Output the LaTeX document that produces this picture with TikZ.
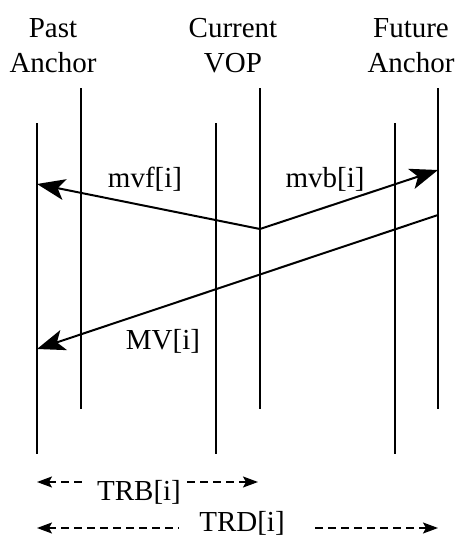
\documentclass[tikz,border=0pt]{standalone}
\usepackage{fontspec}
\setmainfont{Liberation Serif}
\usetikzlibrary{arrows.meta,calc}
\tikzset{
  mv/frame/.style={line width=1.5pt, draw=black},
  mv/vector/.style={line width=2pt, draw=black,
    -{Stealth[length=28pt,width=21pt,inset=7pt]}},
  mv/dim/.style={line width=1.6pt, draw=black, dash pattern=on 8pt off 5pt},
  mv/dimtip/.style={{Stealth[length=15pt,width=11pt,inset=3pt]}-},
  mv/label/.style={font=\fontsize{29}{35}\selectfont, inner sep=0pt, anchor=base},
  mv/head/.style={mv/label, align=center}
}
\begin{document}
\begin{tikzpicture}[x=1pt,y=-1pt]
  \useasboundingbox (0,0) rectangle (455,538);
  % headings
  \node[mv/head] (past) at (53,72) {Past\\Anchor};
  \node[mv/head] (cur) at (233,72) {Current\\VOP};
  \node[mv/head] (fut) at (411,72) {Future\\Anchor};
  % time lines
  \coordinate (pastBtop) at (37,123);  \coordinate (pastBbot) at (37,454);
  \coordinate (pastAtop) at (81,88);   \coordinate (pastAbot) at (81,409);
  \coordinate (curBtop) at (216,123);  \coordinate (curBbot) at (216,454);
  \coordinate (curAtop) at (260,88);   \coordinate (curAbot) at (260,409);
  \coordinate (futBtop) at (395,123);  \coordinate (futBbot) at (395,454);
  \coordinate (futAtop) at (438,88);   \coordinate (futAbot) at (438,409);
  \foreach \t in {pastB,pastA,curB,curA,futB,futA}
    \draw[mv/frame] (\t top) -- (\t bot);
  % motion vectors
  \coordinate (blk) at (260,229);
  \coordinate (mvfEnd) at (37,184);
  \coordinate (mvbEnd) at (438,170);
  \coordinate (mvStart) at (438,215);
  \coordinate (mvEnd) at (37,349);
  \draw[mv/vector] (blk) -- (mvfEnd);
  \draw[mv/vector] (blk) -- (mvbEnd);
  \draw[mv/vector] (mvStart) -- (mvEnd);
  \node[mv/label] (mvf) at (145,187) {mvf[i]};
  \node[mv/label] (mvb) at (325,187) {mvb[i]};
  \node[mv/label] (mv) at (163,349) {MV[i]};
  % temporal distances
  \coordinate (trbL) at (37,482);  \coordinate (trbR) at (258,482);
  \coordinate (trdL) at (37,528);  \coordinate (trdR) at (438,528);
  \node[mv/label] (trb) at (139,500) {TRB[i]};
  \node[mv/label] (trd) at (242,531) {TRD[i]};
  \draw[mv/dim, mv/dimtip, shorten >=15pt] (trbL) -- (trb.west |- trbL);
  \draw[mv/dim, mv/dimtip, shorten >=3pt] (trbR) -- (trb.east |- trbR);
  \draw[mv/dim, mv/dimtip, shorten >=20pt] (trdL) -- (trd.west |- trdL);
  \draw[mv/dim, mv/dimtip, shorten >=27pt] (trdR) -- (trd.east |- trdR);
\end{tikzpicture}
\end{document}
